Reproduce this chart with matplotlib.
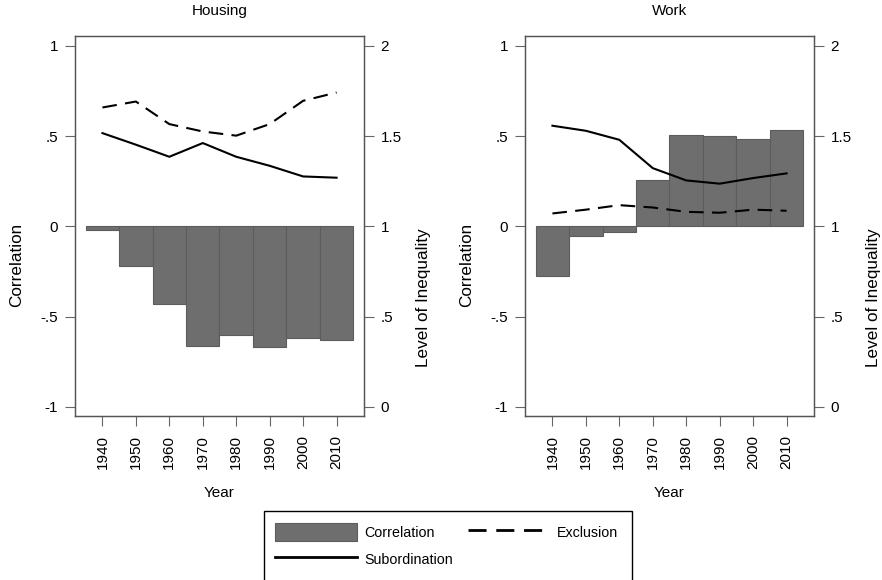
import matplotlib
matplotlib.use("Agg")
import matplotlib.pyplot as plt
from matplotlib.patches import Patch, Rectangle
from matplotlib.lines import Line2D

plt.rcParams['font.family'] = ['Liberation Sans', 'DejaVu Sans']
FS = 11.0
plt.rcParams['font.size'] = FS

years = [1940, 1950, 1960, 1970, 1980, 1990, 2000, 2010]
year_labels = [str(y) for y in years]

housing_corr = [-0.02, -0.22, -0.43, -0.66, -0.60, -0.67, -0.62, -0.63]
housing_excl = [1.659, 1.692, 1.567, 1.526, 1.503, 1.567, 1.696, 1.742]
housing_subo = [1.517, 1.453, 1.386, 1.462, 1.386, 1.336, 1.277, 1.270]

work_corr = [-0.277, -0.052, -0.031, 0.259, 0.508, 0.501, 0.486, 0.532]
work_excl = [1.072, 1.093, 1.118, 1.105, 1.081, 1.076, 1.093, 1.087]
work_subo = [1.558, 1.530, 1.480, 1.323, 1.255, 1.237, 1.268, 1.294]

panels = [("Housing", housing_corr, housing_excl, housing_subo),
          ("Work", work_corr, work_excl, work_subo)]

left_ticks = [-1, -0.5, 0, 0.5, 1]
left_labels = ["-1", "-.5", "0", ".5", "1"]
right_ticks = [0, 0.5, 1, 1.5, 2]
right_labels = ["0", ".5", "1", "1.5", "2"]

W, H = 882, 580
fig = plt.figure(figsize=(W / 100, H / 100), dpi=100)

bar_color = '#6e6e6e'
spine_color = '#555555'
AX_TOP, AX_BOT = 36, 416
AX_W = 289

def yfrac(py):
    return (AX_BOT - py) / (AX_BOT - AX_TOP)

lefts = [75, 525]
for (title, corr, excl, subo), lx in zip(panels, lefts):
    ax = fig.add_axes([lx / W, 1 - AX_BOT / H, AX_W / W, (AX_BOT - AX_TOP) / H])
    ax.bar(years, corr, width=10, color=bar_color, edgecolor='#5c5c5c', linewidth=0.8, zorder=1)
    ax.set_xlim(1931.8, 2018.2)
    ax.set_ylim(-1.05, 1.055)
    ax.set_yticks(left_ticks)
    ax.set_yticklabels(left_labels)
    ax.set_xticks(years)
    ax.set_xticklabels(year_labels, rotation=90)
    ax.set_ylabel("Correlation", fontsize=12.3)
    ax.yaxis.set_label_coords(-51 / AX_W, yfrac(265))
    ax.set_xlabel("Year", labelpad=12)
    ax.set_title(title, fontsize=FS, pad=15)
    ax.tick_params(length=7, width=0.8, color='#666666', pad=5)
    ax.tick_params(axis='x', pad=7)
    for s in ax.spines.values():
        s.set_color(spine_color)
        s.set_linewidth(0.9)

    ax2 = ax.twinx()
    ax2.set_ylim(-0.05, 2.055)
    ax2.plot(years, excl, color='black', linewidth=1.5, dashes=(7, 4), zorder=3)
    ax2.plot(years, subo, color='black', linewidth=1.5, zorder=3)
    ax2.set_yticks(right_ticks)
    ax2.set_yticklabels(right_labels)
    ax2.set_ylabel("Level of Inequality", fontsize=12.3, rotation=90)
    ax2.yaxis.set_label_coords(1 + 52 / AX_W, yfrac(298))
    ax2.tick_params(length=7, width=0.8, color='#666666', pad=5)
    for s in ax2.spines.values():
        s.set_color(spine_color)
        s.set_linewidth(0.9)

# legend frame
fig.patches.append(Rectangle((264 / W, 1 - 600 / H), (632 - 264) / W, (600 - 511) / H,
                             transform=fig.transFigure, fill=False,
                             edgecolor='black', linewidth=1.0))

LFS = 10.3
handles = [Patch(facecolor=bar_color, edgecolor='#5c5c5c', linewidth=0.8),
           Line2D([], [], color='black', linewidth=2),
           Line2D([], [], color='black', linewidth=2, dashes=(6.5, 3.5))]
labels = ["Correlation", "Subordination", "Exclusion"]
fig.legend(handles, labels, ncol=2, loc='upper left',
           bbox_to_anchor=(268 / W, 1 - 516 / H), frameon=False, borderpad=0,
           handlelength=5.7, handleheight=1.55, handletextpad=0.55,
           columnspacing=1.0, labelspacing=0.62, fontsize=LFS)

fig.savefig("out.png", dpi=100)
